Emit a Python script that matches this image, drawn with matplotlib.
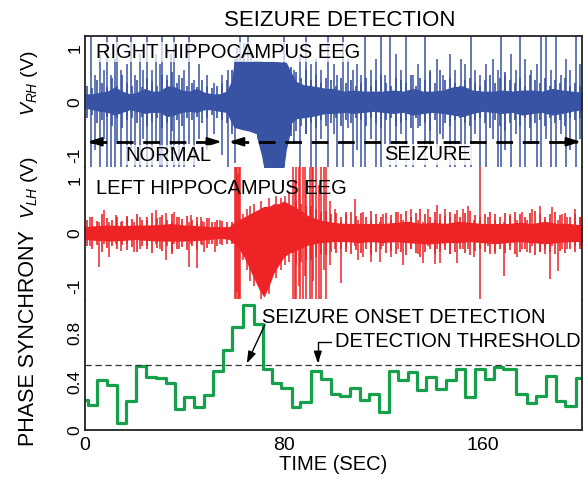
import numpy as np
import matplotlib
matplotlib.use("Agg")
import matplotlib.pyplot as plt

plt.rcParams["font.family"] = ["Liberation Sans", "DejaVu Sans"]
plt.rcParams["mathtext.fontset"] = "custom"
plt.rcParams["mathtext.rm"] = "Liberation Sans"
plt.rcParams["mathtext.it"] = "Liberation Sans:italic"

# ---- right hippocampus EEG (blue) ----
rh_env_t = [0, 3, 6, 9, 12, 15, 18, 21, 24, 27, 30, 33, 36, 39, 42, 45, 48, 51, 54, 57,
            59, 60, 63, 66, 69, 72, 75, 78, 81, 83,
            85, 88, 91, 94, 97, 100, 104, 108, 112, 116, 120, 124, 128, 132, 136,
            140, 144, 148, 152, 156, 160, 164, 168, 172, 176, 180, 184, 188, 192, 196, 200]
rh_env_hi = [0.15, 0.15, 0.18, 0.2, 0.28, 0.2, 0.15, 0.18, 0.25, 0.2, 0.2, 0.3, 0.28, 0.22, 0.2, 0.25, 0.18, 0.15, 0.15, 0.2,
             0.4, 0.76, 0.78, 0.76, 0.78, 0.76, 0.76, 0.75, 0.74, 0.55,
             0.38, 0.32, 0.3, 0.28, 0.25, 0.25, 0.2, 0.22, 0.2, 0.2, 0.2, 0.22, 0.2, 0.25, 0.2,
             0.2, 0.22, 0.28, 0.3, 0.22, 0.2, 0.2, 0.22, 0.2, 0.22, 0.22, 0.2, 0.25, 0.22, 0.2, 0.18]
rh_env_lo = [-0.12, -0.15, -0.18, -0.2, -0.25, -0.2, -0.15, -0.18, -0.22, -0.2, -0.2, -0.28, -0.25, -0.2, -0.18, -0.2, -0.15, -0.15, -0.18, -0.2,
             -0.4, -0.48, -0.52, -0.55, -0.6, -0.65, -0.58, -0.52, -0.48, -0.4,
             -0.32, -0.3, -0.28, -0.25, -0.22, -0.22, -0.2, -0.22, -0.2, -0.18, -0.2, -0.22, -0.2, -0.25, -0.22,
             -0.2, -0.22, -0.25, -0.28, -0.22, -0.18, -0.2, -0.22, -0.2, -0.25, -0.22, -0.2, -0.25, -0.22, -0.18, -0.15]
rh_deep_t = [69, 71, 72, 80, 81, 83]
rh_deep_lo = [-0.65, -1.0, -1.25, -1.25, -0.9, -0.5]
# short noise strokes every 2 s (t = 1, 3, ..., 199): half-height
rh_fuzz_amp = [0.3, 0.25, 0.4, 0.35, 0.28, 0.45, 0.3, 0.5, 0.35, 0.3, 0.4, 0.28, 0.45, 0.38, 0.3, 0.5, 0.4, 0.55, 0.35, 0.45,
               0.3, 0.35, 0.28, 0.4, 0.3, 0.25, 0.3, 0.35, 0.4,
               0.6, 0, 0, 0, 0, 0, 0, 0, 0, 0, 0, 0, 0.65,
               0.55, 0.45, 0.6, 0.4, 0.5, 0.35, 0.45, 0.4, 0.3, 0.45, 0.35, 0.4, 0.3, 0.35, 0.45, 0.3, 0.4, 0.5, 0.35, 0.3,
               0.45, 0.4, 0.35, 0.5, 0.3, 0.45, 0.4, 0.55, 0.35, 0.6, 0.4, 0.45, 0.35, 0.3, 0.4, 0.45, 0.35, 0.3, 0.4, 0.5,
               0.35, 0.45, 0.55, 0.4, 0.35, 0.45, 0.3, 0.5, 0.4, 0.35, 0.45, 0.3, 0.4, 0.35, 0.45, 0.3, 0.35, 0.3]
rh_spike_t = [2.5, 4.2, 6, 7.5, 9, 10.5, 12, 13, 14.5, 17, 18.5, 20, 22, 23.5, 25, 27, 28.5, 30, 31, 33,
              34.5, 36, 38, 40, 42, 44, 46, 49, 52, 55,
              57.5, 60.5, 61, 62.5, 64, 65.5, 67,
              80, 84, 86.5, 89, 91, 93, 95, 97.8, 100, 101.5, 104, 106, 108, 109.5, 111, 112.6, 115, 117.2, 119, 120.6,
              122.6, 125.2, 127, 129.3, 131.9, 134, 136.7, 139, 141.5, 144, 146.7, 149, 151.4, 153, 155.4, 157, 159,
              161.5, 164.1, 166, 167.5, 169, 171.5, 173.5, 175, 177, 179.5, 182, 183.6, 185.6, 187.6, 189.6, 191.6,
              193.5, 195, 197.6, 199]
rh_spike_lo = [-1.25, -0.9, -1.25, -0.7, -1.25, -1.25, -1.25, -0.8, -1.25, -1.25, -0.9, -1.25, -1.25, -0.7, -1.25, -1.25, -0.8, -1.25, -1.25, -1.25,
               -0.9, -1.25, -1.25, -1.25, -0.8, -1.25, -0.7, -0.9, -0.6, -1.0,
               -1.25, -1.15, -0.5, -0.5, -0.5, -0.5, -0.5,
               -1.25, -0.8, -1.25, -0.6, -1.25, -1.25, -0.7, -1.25, -0.6, -1.25, -1.25, -0.5, -1.25, -0.9, -1.25, -1.25, -0.7, -1.25, -1.25, -0.8,
               -1.25, -1.25, -0.6, -1.25, -1.25, -0.5, -1.25, -0.9, -1.25, -0.7, -1.25, -1.25, -0.8, -1.25, -1.25, -0.6, -1.25,
               -1.25, -0.7, -1.25, -1.25, -0.9, -1.25, -0.6, -1.25, -1.25, -0.8, -1.25, -1.25, -0.7, -1.25, -1.25, -0.6,
               -1.25, -0.9, -1.25, -0.7]
rh_spike_hi = [1.25, 0.5, 0.9, 0.6, 1.25, 0.5, 0.8, 1.25, 0.6, 0.7, 1.25, 0.5, 0.9, 0.6, 1.25, 0.6, 0.9, 0.7, 1.25, 0.5,
               0.9, 1.25, 0.5, 0.6, 1.25, 0.4, 0.7, 0.5, 0.35, 0.5,
               0.6, 0.8, 1.0, 1.25, 1.1, 1.25, 0.95,
               1.25, 0.6, 0.9, 1.25, 0.7, 0.8, 0.6, 1.25, 0.7, 0.5, 1.25, 0.8, 0.6, 0.7, 0.5, 1.25, 0.6, 0.8, 1.25, 0.5,
               1.25, 0.9, 0.6, 1.25, 0.5, 0.7, 1.25, 0.6, 0.8, 0.5, 0.9, 0.6, 0.8, 0.7, 1.25, 0.6, 0.5,
               0.7, 0.8, 0.6, 1.25, 0.5, 0.9, 0.6, 1.25, 0.8, 0.6, 0.7, 1.25, 1.25, 0.6, 1.25, 0.5,
               0.8, 0.6, 1.25, 0.7]

# ---- left hippocampus EEG (red) ----
lh_env_t = [0, 5, 10, 15, 20, 25, 30, 35, 40, 45, 50, 55, 58, 60, 62, 64, 66, 68, 70, 72,
            74, 76, 78, 80, 82, 84, 86, 90, 95, 100, 105, 110, 115, 120, 125, 130, 135, 140, 145, 150,
            155, 160, 165, 170, 175, 180, 185, 190, 195, 200]
lh_env_hi = [0.12, 0.14, 0.15, 0.14, 0.15, 0.15, 0.16, 0.18, 0.15, 0.14, 0.12, 0.12, 0.12, 0.2, 0.25, 0.3, 0.35, 0.4, 0.45, 0.5,
             0.5, 0.55, 0.55, 0.6, 0.55, 0.5, 0.45, 0.32, 0.24, 0.2, 0.18, 0.18, 0.18, 0.18, 0.2, 0.22, 0.18, 0.2, 0.18, 0.22,
             0.2, 0.18, 0.18, 0.18, 0.2, 0.18, 0.22, 0.18, 0.18, 0.15]
lh_env_lo = [-0.12, -0.14, -0.15, -0.14, -0.12, -0.14, -0.15, -0.15, -0.15, -0.14, -0.12, -0.1, -0.12, -0.2, -0.3, -0.45, -0.65, -0.85, -1.05, -1.2,
             -1.0, -0.75, -0.6, -0.45, -0.38, -0.35, -0.3, -0.22, -0.18, -0.16, -0.16, -0.18, -0.16, -0.18, -0.16, -0.18, -0.2, -0.2, -0.18, -0.18,
             -0.16, -0.18, -0.2, -0.18, -0.16, -0.18, -0.2, -0.18, -0.16, -0.16]
lh_fuzz_amp = [0.25, 0.3, 0.22, 0.35, 0.28, 0.25, 0.3, 0.22, 0.32, 0.27, 0.35, 0.25, 0.3, 0.38, 0.28, 0.33, 0.25, 0.36, 0.3, 0.27,
               0.32, 0.25, 0.3, 0.22, 0.28, 0.2, 0.25, 0.22, 0.2,
               0.2, 0, 0, 0, 0, 0, 0, 0, 0, 0, 0, 0, 0,
               0.6, 0.55, 0.5, 0.5, 0.45, 0.4, 0.42, 0.35, 0.38, 0.3, 0.35, 0.4, 0.32, 0.38, 0.3, 0.42, 0.35, 0.3, 0.38, 0.33,
               0.4, 0.35, 0.42, 0.3, 0.38, 0.45, 0.35, 0.3, 0.4, 0.36, 0.32, 0.4, 0.35, 0.3, 0.38, 0.42, 0.33, 0.3, 0.36, 0.4,
               0.35, 0.3, 0.38, 0.32, 0.4, 0.35, 0.3, 0.38, 0.42, 0.35, 0.3, 0.36, 0.4, 0.33, 0.38, 0.3, 0.35, 0.3]
lh_spike_t = [2, 5.6, 7.6, 9.6, 12.3, 14.3, 17, 19.7, 22, 25, 28.4, 30, 32.4, 35, 35.8, 38, 41.8, 42.5, 45.2, 46.5,
              48, 49.8, 52.5, 54.5,
              60.2, 60.6, 61.0, 61.4, 61.8, 62.2, 63.5, 65, 66.5, 68, 71, 74, 77, 79, 80.5, 82, 83.7, 84.5, 85.1, 86, 86.4, 87.7, 88.5,
              89.1, 90.4, 91.2, 91.8, 93.1, 94, 95.1, 96, 97.1, 98.5,
              100.5, 103.2, 105, 108.5, 110, 112, 115, 118.6, 120, 123, 126, 128, 131, 134, 136, 138, 141, 141.8, 142.7, 145,
              147, 149.8, 152, 154, 156.5, 158.8, 162, 165, 168.8, 171, 174, 176, 178, 180, 183, 185, 187.3, 188, 190.5, 192,
              194, 197, 199]
lh_spike_lo = [-0.25, -0.63, -0.2, -0.45, -0.2, -0.33, -0.2, -0.35, -0.3, -0.25, -0.2, -0.3, -0.5, -0.4, -0.2, -0.3, -0.63, -0.2, -0.66, -0.2,
               -0.35, -0.2, -0.35, -0.2,
               -1.25, -1.25, -1.1, -1.25, -1.25, -1.25, -0.5, -0.7, -0.9, -1.0, -1.25, -1.15, -0.85, -0.7, -0.6, -0.55, -1.25, -1.25, -1.25, -1.0, -1.25, -1.25, -0.8,
               -1.25, -1.25, -1.25, -0.9, -1.25, -1.25, -1.25, -0.7, -1.25, -0.6,
               -0.3, -0.93, -0.3, -0.25, -0.5, -0.45, -0.55, -0.55, -0.25, -0.45, -0.3, -0.6, -0.3, -0.4, -0.56, -0.25, -0.58, -0.3, -0.56, -0.25,
               -0.4, -0.56, -0.3, -0.3, -0.44, -1.25, -0.25, -0.4, -0.81, -0.25, -0.45, -0.3, -0.35, -0.25, -0.35, -0.4, -0.87, -0.25, -0.72, -0.3,
               -0.3, -0.25, -0.25]
lh_spike_hi = [0.3, 0.2, 0.43, 0.2, 0.33, 0.2, 0.3, 0.2, 0.3, 0.25, 0.43, 0.3, 0.38, 0.2, 0.4, 0.3, 0.2, 0.33, 0.2, 0.3,
               0.2, 0.28, 0.2, 0.25,
               1.25, 1.25, 1.25, 1.1, 1.25, 1.25, 0.35, 0.45, 0.5, 0.55, 0.6, 0.65, 0.7, 0.65, 0.7, 0.75, 1.25, 1.0, 1.25, 1.25, 1.25, 1.25, 1.25,
               1.0, 1.25, 1.25, 1.25, 1.25, 0.9, 1.25, 1.25, 1.25, 0.6,
               0.45, 0.2, 0.4, 0.63, 0.25, 0.4, 0.25, 0.2, 0.35, 0.25, 0.4, 0.25, 0.45, 0.25, 0.2, 0.45, 0.25, 0.52, 0.25, 0.45,
               0.3, 0.43, 0.45, 0.5, 0.25, 1.25, 0.3, 0.25, 0.2, 0.35, 0.25, 0.4, 0.25, 0.45, 0.5, 0.25, 0.2, 0.48, 0.25, 0.35,
               0.3, 0.45, 0.3]

# ---- phase synchrony (green step), left edge of each window ----
ps_t = [0, 1.3, 4.9, 8.7, 12.7, 16.5, 20.5, 24.5, 28.5, 32.4, 36.2, 40.0, 44.0, 47.9, 51.6, 55.6, 59.3, 63.4, 67.9, 71.7,
        75.4, 79.0, 83.1, 86.4, 91.1, 95.1, 98.8, 102.8, 106.5, 110.6, 114.3, 118.3, 122.3, 126.0, 130.0, 133.6, 137.4, 141.4,
        145.4, 149.1, 153.0, 157.1, 160.8, 164.5, 168.4, 173.3, 177.7, 181.6, 185.5, 189.4, 193.1, 197.4]
ps_val = [0.25, 0.21, 0.41, 0.37, 0.055, 0.24, 0.53, 0.44, 0.43, 0.39, 0.17, 0.27, 0.19, 0.29, 0.49, 0.66, 0.85, 1.03, 0.88, 0.50,
          0.39, 0.35, 0.19, 0.23, 0.49, 0.42, 0.30, 0.28, 0.35, 0.25, 0.30, 0.15, 0.49, 0.41, 0.48, 0.33, 0.44, 0.34,
          0.41, 0.50, 0.27, 0.50, 0.42, 0.52, 0.50, 0.30, 0.22, 0.28, 0.45, 0.24, 0.20, 0.43]
threshold = 0.54
t_end = 200

blue = "#3953A4"
red = "#EE2326"
green = "#17A04B"
fs = 14.5

fig = plt.figure(figsize=(5.85, 4.8), dpi=100)
L, W = 85 / 585, 497 / 585
H = 131.3 / 480
B = 1 - 430 / 480
ax3 = fig.add_axes([L, B, W, H])
ax2 = fig.add_axes([L, B + H, W, H])
ax1 = fig.add_axes([L, B + 2 * H, W, H])

for ax in (ax1, ax2, ax3):
    ax.set_xlim(0, t_end)
    ax.tick_params(length=0, labelsize=14)
    ax.tick_params(axis="y", pad=2, labelsize=12.5)
    for s in ax.spines.values():
        s.set_linewidth(1.3)
        s.set_color("#222222")
ax1.spines["bottom"].set_visible(False)
ax2.spines["top"].set_visible(False)
ax2.spines["bottom"].set_visible(False)
ax3.spines["top"].set_visible(False)
ax1.set_xticks([])
ax2.set_xticks([])

fuzz_t = np.arange(1, t_end, 2)

# top panel
ax1.set_ylim(-1.23, 1.23)
ax1.fill_between(rh_env_t, rh_env_lo, rh_env_hi, color=blue, lw=0)
ax1.fill_between(rh_deep_t, rh_deep_lo, 0, color=blue, lw=0)
ax1.vlines(fuzz_t, -np.array(rh_fuzz_amp), rh_fuzz_amp, color=blue, lw=1.2)
ax1.vlines(rh_spike_t, rh_spike_lo, rh_spike_hi, color=blue, lw=1.1)
ax1.set_yticks([-1, 0, 1])
ax1.set_yticklabels(["-1", "0", "1"], rotation=90, va="center")

ax1.text(4.4, 0.93, "RIGHT HIPPOCAMPUS EEG", fontsize=fs, va="center", ha="left",
         bbox=dict(facecolor="white", alpha=0.7, edgecolor="none", pad=0.5))
ax1.plot([2, 54], [-0.75, -0.75], color="k", lw=2, dashes=(6, 3.5))
ax1.plot([59, 198], [-0.75, -0.75], color="k", lw=2, dashes=(6, 3.5))
head = dict(arrowstyle="-|>,head_length=0.7,head_width=0.22", color="k", lw=1.5,
            shrinkA=0, shrinkB=0, mutation_scale=12)
for tip, tail in [(1.0, 5.0), (55.0, 51.0), (58.0, 62.0), (199.5, 195.5)]:
    ax1.annotate("", xy=(tip, -0.75), xytext=(tail, -0.75), arrowprops=head)
ax1.text(33.4, -1.0, "NORMAL", fontsize=fs, ha="center", va="center",
         bbox=dict(facecolor="white", alpha=0.7, edgecolor="none", pad=0.5))
ax1.text(137.9, -0.99, "SEIZURE", fontsize=fs, ha="center", va="center",
         bbox=dict(facecolor="white", alpha=0.85, edgecolor="none", pad=0.5))

# middle panel
ax2.set_ylim(-1.23, 1.23)
ax2.fill_between(lh_env_t, lh_env_lo, lh_env_hi, color=red, lw=0)
ax2.vlines(fuzz_t, -np.array(lh_fuzz_amp), lh_fuzz_amp, color=red, lw=1.2)
ax2.vlines(lh_spike_t, lh_spike_lo, lh_spike_hi, color=red, lw=1.1)
ax2.set_yticks([-1, 0, 1])
ax2.set_yticklabels(["-1", "0", "1"], rotation=90, va="center")
ax2.text(4.4, 0.83, "LEFT HIPPOCAMPUS EEG", fontsize=fs, va="center", ha="left")

# bottom panel
ax3.set_ylim(0, 1.085)
ax3.step(ps_t + [t_end], ps_val + [ps_val[-1]], where="post", color=green, lw=2.3)
ax3.axhline(threshold, color="#333333", lw=0.9, dashes=(5, 3))
ax3.set_yticks([0, 0.4, 0.8])
ax3.set_yticklabels(["0", "0.4", "0.8"], rotation=90, va="center")
ax3.set_xticks([0, 80, 160])
ax3.tick_params(axis="x", pad=5)
ax3.set_xlabel("TIME (SEC)", fontsize=fs, labelpad=1)

ax3.text(71.2, 0.93, "SEIZURE ONSET DETECTION", fontsize=fs, va="center", ha="left")
ax3.annotate("", xy=(65.1, threshold + 0.01), xytext=(72.4, 0.87),
             arrowprops=dict(arrowstyle="-|>,head_length=0.6,head_width=0.2", color="k", lw=1,
                             shrinkA=0, shrinkB=0, mutation_scale=12))
ax3.text(100.5, 0.73, "DETECTION THRESHOLD", fontsize=fs, va="center", ha="left")
ax3.annotate("", xy=(93.7, threshold + 0.01), xytext=(99.0, 0.73),
             arrowprops=dict(arrowstyle="-|>,head_length=0.6,head_width=0.2", color="k", lw=1,
                             connectionstyle="angle,angleA=0,angleB=90,rad=0",
                             shrinkA=0, shrinkB=0, mutation_scale=12))

fig.text(340 / 585, 1 - 21 / 480, "SEIZURE DETECTION", fontsize=16, ha="center", va="center")
fig.text(29 / 585, 1 - 83 / 480, r"$V_{RH}$ (V)", fontsize=14, rotation=90, ha="center", va="center")
fig.text(29 / 585, 1 - 187 / 480, r"$V_{LH}$ (V)", fontsize=14, rotation=90, ha="center", va="center")
fig.text(29 / 585, 1 - 338 / 480, "PHASE SYNCHRONY", fontsize=15.5, rotation=90, ha="center", va="center")

fig.savefig("out.png", dpi=100)
